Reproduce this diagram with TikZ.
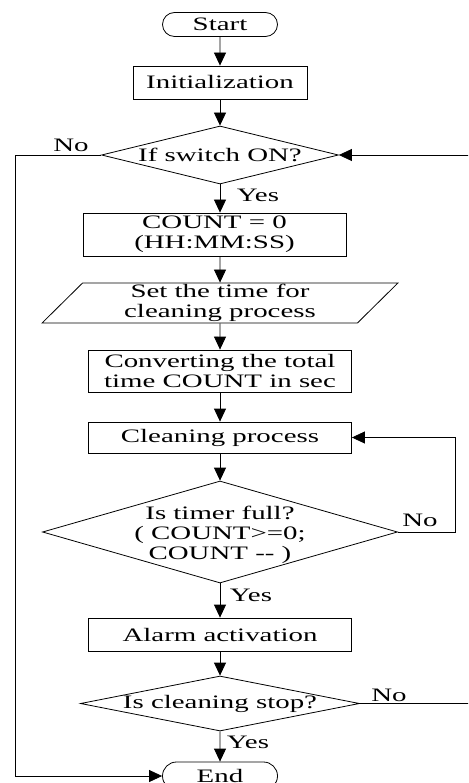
\documentclass[tikz,border=0pt]{standalone}
\usepackage{fontspec}
\setmainfont[FakeStretch=1.52]{Liberation Serif}
\usetikzlibrary{shapes.geometric,shapes.misc,arrows.meta}
\begin{document}
\begin{tikzpicture}[x=1pt,y=-1pt,line width=0.8pt,
  font=\fontsize{19}{20}\selectfont,
  >={Triangle[length=13pt,width=12pt]},
  term/.style={draw,rounded rectangle,minimum width=115pt,minimum height=24pt,inner sep=0pt},
  proc/.style={draw,rectangle,minimum width=263pt,align=center,inner sep=0pt},
  io/.style={draw,trapezium,trapezium left angle=53,trapezium right angle=127,
    trapezium stretches=true,minimum width=356pt,minimum height=40pt,align=center,inner sep=0pt},
  decide/.style={draw,diamond,inner sep=0pt},
  dtext/.style={align=center,inner sep=0pt}]
  \useasboundingbox (0,0) rectangle (468,783);
  \clip (0,0) rectangle (468,783);
  % Flow
  \node[term] (start) at (220,24.5) {Start};
  \node[proc,minimum width=174pt,minimum height=33pt] (init) at (220,82.5) {Initialization};
  \node[decide,minimum width=237pt,minimum height=58pt] (switch) at (220,155) {};
  \node[dtext] (switchtxt) at (switch) {If switch ON?};
  \node[proc,minimum height=43pt] (count) at (214.5,234.5) {COUNT = 0\\(HH:MM:SS)};
  \node[io] (settime) at (220,303) {Set the time for\\cleaning process};
  \node[proc,minimum height=42pt] (convert) at (220,371) {Converting the total\\time COUNT in sec};
  \node[proc,minimum height=31pt] (clean) at (220,437.5) {Cleaning process};
  \node[decide,minimum width=355pt,minimum height=102pt] (timer) at (220,532) {};
  \node[dtext] (timertxt) at (220,535) {Is timer full?\\( COUNT>=0;\\COUNT {-}{-} )};
  \node[proc,minimum height=33pt] (alarm) at (220,634.5) {Alarm activation};
  \node[decide,minimum width=279pt,minimum height=55pt] (stop) at (220,703.5) {};
  \node[dtext] (stoptxt) at (stop) {Is cleaning stop?};
  \node[term,minimum height=28pt] (end) at (220,776) {End};
  % Labels
  \node (no1) at (71,145) {No};
  \node (yes1) at (258,195) {Yes};
  \node (no2) at (420,520) {No};
  \node (yes2) at (251,595) {Yes};
  \node (no3) at (389,695) {No};
  \node (yes3) at (248,742) {Yes};
  % Loop corners
  \coordinate (lt) at (15,155);
  \coordinate (lb) at (15,776);
  \coordinate (rt) at (470,155);
  \coordinate (rb) at (470,703.5);
  \coordinate (tr) at (455,532);
  % Arrows
  \draw[->] (start) -- (init);
  \draw[->] (init) -- (switch);
  \draw[->] (switch.south) -- (switch.south |- count.north);
  \draw[->] (count.south -| settime) -- (settime);
  \draw[->] (settime) -- (convert);
  \draw[->] (convert) -- (clean);
  \draw[->] (clean) -- (timer);
  \draw[->] (timer) -- (alarm);
  \draw[->] (alarm) -- (stop);
  \draw[->] (stop) -- (end);
  \draw[->] (timer.east) -- (tr) |- (clean.east);
  \draw[->] (stop.east) -- (rb) -- (rt) -- (switch.east);
  \draw[->] (switch.west) -- (lt) -- (lb) -- (end.west);
\end{tikzpicture}
\end{document}
